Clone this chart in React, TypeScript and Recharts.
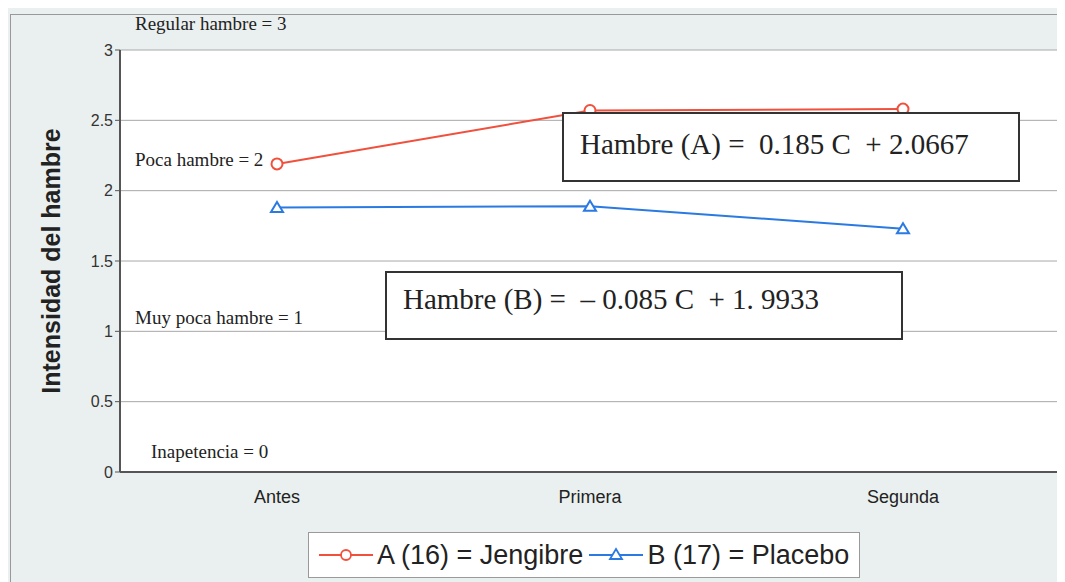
import React from "react";
import { LineChart, Line, XAxis, YAxis, CartesianGrid } from "recharts";

const momentos = ["Antes", "Primera", "Segunda"];
const jengibre = [2.19, 2.57, 2.58];
const placebo = [1.88, 1.89, 1.73];
const yTicks = [0, 0.5, 1, 1.5, 2, 2.5, 3];

const RED = "#f0503c";
const BLUE = "#2a7ae2";
const SERIF = "'Liberation Serif', 'DejaVu Serif', serif";
const SANS = "'Liberation Sans', Arial, sans-serif";

const data = momentos.map((m, i) => ({
  momento: m,
  A: jengibre[i],
  B: placebo[i],
}));

const Triangle = (props: any) => {
  const { cx, cy } = props;
  if (cx == null || cy == null) return null;
  return (
    <path
      d={`M${cx},${cy - 5.5} L${cx + 6},${cy + 4.5} L${cx - 6},${cy + 4.5} Z`}
      fill="#fff"
      stroke={BLUE}
      strokeWidth={2}
    />
  );
};

function LegendBox() {
  const item = (color: string, label: string, tri: boolean) => (
    <span style={{ display: "inline-flex", alignItems: "center", marginRight: 4 }}>
      <svg width={58} height={20}>
        <line x1={2} y1={10} x2={56} y2={10} stroke={color} strokeWidth={2} />
        {tri ? (
          <path d="M29,4 L35,14 L23,14 Z" fill="#fff" stroke={color} strokeWidth={1.8} />
        ) : (
          <circle cx={29} cy={10} r={5} fill="#fff" stroke={color} strokeWidth={1.8} />
        )}
      </svg>
      <span style={{ marginLeft: 2 }}>{label}</span>
    </span>
  );
  return (
    <div
      style={{
        position: "absolute",
        left: 300,
        top: 524,
        width: 552,
        height: 46,
        boxSizing: "border-box",
        border: "1px solid #9a9a9a",
        background: "#fff",
        display: "flex",
        alignItems: "center",
        paddingLeft: 8,
        fontFamily: SANS,
        fontSize: 27,
        color: "#222",
        whiteSpace: "nowrap",
        overflow: "hidden",
      }}
    >
      {item(RED, "A (16) = Jengibre", false)}
      {item(BLUE, "B (17) = Placebo", true)}
    </div>
  );
}

const note = (left: number, top: number, text: string) => (
  <div
    style={{
      position: "absolute",
      left,
      top,
      fontFamily: SERIF,
      fontSize: 19,
      lineHeight: "22px",
      color: "#222",
      whiteSpace: "nowrap",
    }}
  >
    {text}
  </div>
);

const eqBox = (left: number, top: number, w: number, h: number, padTop: number, text: string) => (
  <div
    style={{
      position: "absolute",
      left,
      top,
      width: w,
      height: h,
      boxSizing: "border-box",
      border: "2px solid #333",
      background: "#fff",
      fontFamily: SERIF,
      fontSize: 29,
      lineHeight: "33px",
      color: "#222",
      paddingLeft: 16,
      paddingTop: padTop,
      whiteSpace: "pre",
    }}
  >
    {text}
  </div>
);

export default function App() {
  return (
    <div style={{ position: "relative", width: 1057, height: 574, background: "#eaf0ef" }}>
      <div
        style={{
          position: "absolute",
          left: 2,
          top: 6,
          width: 1055,
          height: 568,
          borderLeft: "1px solid #999",
          borderTop: "1px solid #999",
        }}
      />
      <LineChart
        width={1057}
        height={574}
        data={data}
        margin={{ top: 42, right: 5, left: 0, bottom: 70 }}
        style={{ position: "absolute", left: 0, top: 0 }}
      >
        <CartesianGrid xAxisId="b" yAxisId="l" vertical={false} stroke="#a8a8a8" fill="#fff" />
        <XAxis
          xAxisId="b"
          dataKey="momento"
          padding={{ left: 157, right: 157 }}
          axisLine={{ stroke: "#555", strokeWidth: 2 }}
          tickLine={false}
          tick={{ fontFamily: SANS, fontSize: 18, fill: "#222" }}
          tickMargin={12}
          height={40}
        />
        <XAxis
          xAxisId="t"
          orientation="top"
          dataKey="momento"
          padding={{ left: 157, right: 157 }}
          tick={false}
          tickLine={false}
          axisLine={{ stroke: "#777" }}
          height={0}
        />
        <YAxis
          yAxisId="l"
          domain={[0, 3]}
          ticks={yTicks}
          width={112}
          axisLine={{ stroke: "#555", strokeWidth: 2 }}
          tickLine={{ stroke: "#555" }}
          tickSize={5}
          tick={{ fontFamily: SANS, fontSize: 16, fill: "#333" }}
          label={{
            value: "Intensidad del hambre",
            angle: -90,
            position: "center",
            dx: -13,
            style: { fontFamily: SANS, fontSize: 25, fontWeight: "bold", fill: "#222" },
          }}
        />
        <YAxis
          yAxisId="r"
          orientation="right"
          domain={[0, 3]}
          tick={false}
          tickLine={false}
          axisLine={{ stroke: "#777" }}
          width={0}
        />
        <Line
          xAxisId="b"
          yAxisId="l"
          dataKey="A"
          stroke={RED}
          strokeWidth={2}
          dot={{ r: 5.5, fill: "#fff", stroke: RED, strokeWidth: 2 }}
          isAnimationActive={false}
        />
        <Line
          xAxisId="b"
          yAxisId="l"
          dataKey="B"
          stroke={BLUE}
          strokeWidth={2}
          dot={<Triangle />}
          isAnimationActive={false}
        />
      </LineChart>
      <LegendBox />
      {note(127, 5, "Regular hambre = 3")}
      {note(127, 141, "Poca hambre = 2")}
      {note(127, 299, "Muy poca hambre = 1")}
      {note(143, 433, "Inapetencia = 0")}
      {eqBox(554, 104, 458, 70, 14, "Hambre (A) =  0.185 C  + 2.0667")}
      {eqBox(377, 263, 518, 69, 10, "Hambre (B) =  \u2013 0.085 C  + 1. 9933")}
    </div>
  );
}
